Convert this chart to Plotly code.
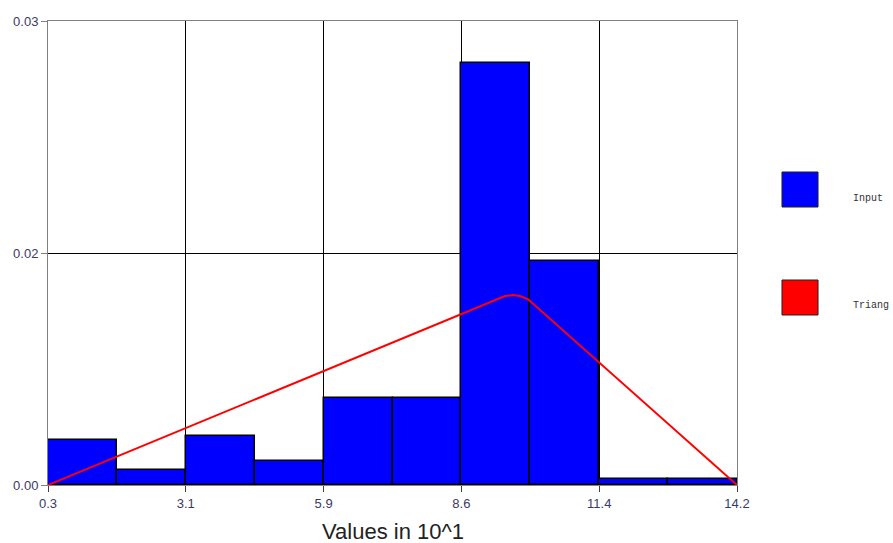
import plotly.graph_objects as go

# Data (x in units of 10^1)
x_min = 0.3
x_max = 14.2
n_bins = 10
bar_heights = [0.00337, 0.00112, 0.00366, 0.00179, 0.00651, 0.00651,
               0.03156, 0.01675, 0.00045, 0.00045]
tri_x = [0.3, 9.52, 9.68, 9.82, 9.98, 14.2]
tri_y = [0.0, 0.01413, 0.01421, 0.01413, 0.01391, 0.0]
y_max = 0.0347
x_tick_text = ["0.3", "3.1", "5.9", "8.6", "11.4", "14.2"]
y_tick_text = ["0.00", "0.02", "0.03"]
legend_names = ["Input", "Triang"]
legend_colors = ["#0000FF", "#FF0000"]

bw = (x_max - x_min) / n_bins
centers = [x_min + bw * (i + 0.5) for i in range(n_bins)]
x_ticks = [x_min + (x_max - x_min) * k / 5 for k in range(6)]
y_ticks = [0, y_max / 2, y_max]

fig = go.Figure()
fig.add_trace(go.Bar(x=centers, y=bar_heights, width=[bw] * n_bins,
                     marker=dict(color="#0000FF", line=dict(color="black", width=1.5)),
                     name="Input", showlegend=False))
fig.add_trace(go.Scatter(x=tri_x, y=tri_y, mode="lines",
                         line=dict(color="#FF0000", width=2),
                         name="Triang", showlegend=False))

axis_font = dict(family="Arial, Liberation Sans, sans-serif", size=13, color="#3a3a66")
fig.update_xaxes(range=[x_min, x_max], tickvals=x_ticks, ticktext=x_tick_text,
                 showgrid=True, gridcolor="black", gridwidth=1,
                 showline=True, linecolor="#808080", linewidth=1, mirror=True,
                 ticks="outside", ticklen=6, tickcolor="#404040",
                 tickfont=axis_font, zeroline=False)
fig.update_yaxes(range=[0, y_max], tickvals=y_ticks, ticktext=y_tick_text,
                 showgrid=True, gridcolor="black", gridwidth=1,
                 showline=True, linecolor="#808080", linewidth=1, mirror=True,
                 ticks="outside", ticklen=6, tickcolor="#808080",
                 tickfont=axis_font, zeroline=False)

fig.add_annotation(xref="paper", yref="paper", x=0.5, y=-0.101,
                   text="Values in 10^1", showarrow=False,
                   xanchor="center", yanchor="middle",
                   font=dict(family="Arial, Liberation Sans, sans-serif", size=22, color="#222222"))

# legend boxes
ys = [(0.5991, 0.6746), (0.3664, 0.4418)]
text_y = [0.618, 0.387]
for (y0, y1), name, col, ty in zip(ys, legend_names, legend_colors, text_y):
    fig.add_shape(type="rect", xref="paper", yref="paper", x0=1.0653, x1=1.1176,
                  y0=y0, y1=y1, fillcolor=col, line=dict(color="#222222", width=1))
    fig.add_annotation(xref="paper", yref="paper", x=1.166, y=ty, text=name,
                       showarrow=False, xanchor="left", yanchor="middle",
                       font=dict(family="Liberation Mono, Courier New, monospace", size=10, color="#333333"))

fig.update_layout(width=893, height=543, margin=dict(l=48, r=156, t=21, b=58),
                  plot_bgcolor="white", paper_bgcolor="white", bargap=0)
fig.write_html("out.html")
